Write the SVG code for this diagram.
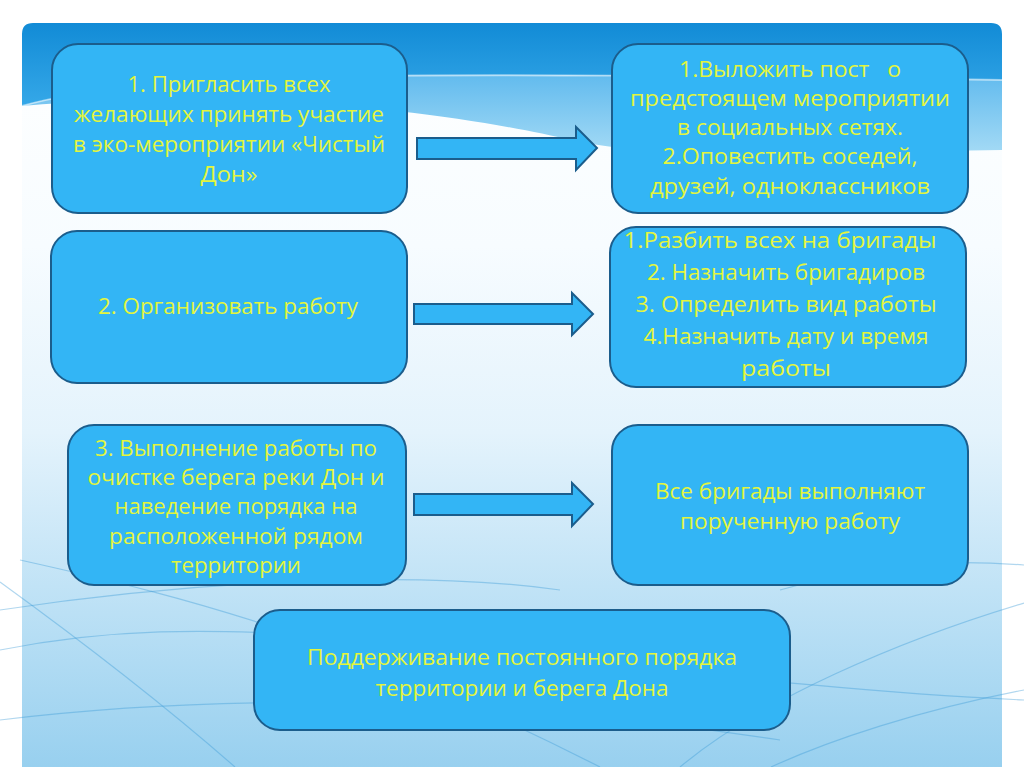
<svg xmlns="http://www.w3.org/2000/svg" width="1024" height="767" viewBox="0 0 1024 767">
<defs>
<linearGradient id="bg" x1="0" y1="0" x2="0" y2="1">
<stop offset="0" stop-color="#ffffff"/>
<stop offset="0.3" stop-color="#f7fcff"/>
<stop offset="0.55" stop-color="#e4f3fc"/>
<stop offset="1" stop-color="#98d0ef"/>
</linearGradient>
<linearGradient id="dark" x1="0" y1="0" x2="0" y2="1">
<stop offset="0" stop-color="#128bd6"/>
<stop offset="1" stop-color="#35a8e8"/>
</linearGradient>
<linearGradient id="light" x1="0" y1="0" x2="0" y2="1">
<stop offset="0" stop-color="#62bbee"/>
<stop offset="1" stop-color="#a4daf5"/>
</linearGradient>
</defs>
<style>
.box{fill:#33b5f5;stroke:#1b5d8c;stroke-width:2}
.arr{fill:#33b5f5;stroke:#1b5d8c;stroke-width:2;stroke-linejoin:miter}
.t{font-family:"Open Sans","DejaVu Sans",sans-serif;font-size:22px;fill:#e4f53c;text-anchor:middle}
.curve{fill:none;stroke:#3b9bd8;stroke-width:1.2;opacity:0.4}
</style>
<rect width="1024" height="767" fill="#ffffff"/>
<g id="background">
<path d="M22,34 Q22,23 33,23 L991,23 Q1002,23 1002,34 L1002,767 L22,767 Z" fill="url(#bg)"/>
<path d="M22,106 C150,70 400,72 1002,80 L1002,150 C820,152 660,160 570,140 C480,118 260,84 22,106 Z" fill="url(#light)"/>
<path d="M22,34 Q22,23 33,23 L991,23 Q1002,23 1002,34 L1002,80 C400,72 150,70 22,106 Z" fill="url(#dark)"/>
<path d="M22,106 C150,70 400,72 1002,80" fill="none" stroke="#ffffff" stroke-width="2" opacity="0.5"/>
<path class="curve" d="M0,582 C80,640 170,710 235,767"/>
<path class="curve" d="M0,650 C100,630 200,625 380,640 C600,660 800,690 1024,700"/>
<path class="curve" d="M0,610 C200,580 420,570 560,590"/>
<path class="curve" d="M1024,690 C920,710 830,740 771,767"/>
<path class="curve" d="M1024,603 C900,640 760,700 680,767"/>
<path class="curve" d="M0,720 C250,690 520,700 780,740"/>
<path class="curve" d="M20,560 C200,600 350,640 600,767"/>
<path class="curve" d="M780,590 C880,560 960,560 1024,565"/>
</g>
<g id="connectors">
<path class="arr" d="M417,138 L576,138 L576,127 L597,148 L576,170 L576,159 L417,159 Z"/>
<path class="arr" d="M414,304 L572,304 L572,293 L593,314 L572,335 L572,324 L414,324 Z"/>
<path class="arr" d="M414,494 L572,494 L572,483 L593,504 L572,526 L572,515 L414,515 Z"/>
</g>
<g id="node1">
<rect class="box" x="52" y="44" width="355" height="169" rx="26"/>
<text class="t"><tspan x="229" y="92" textLength="203" lengthAdjust="spacingAndGlyphs">1. Пригласить всех</tspan><tspan x="229" y="122" textLength="310" lengthAdjust="spacingAndGlyphs">желающих принять участие</tspan><tspan x="229" y="152" textLength="312" lengthAdjust="spacingAndGlyphs">в эко-мероприятии «Чистый</tspan><tspan x="229" y="182" textLength="57" lengthAdjust="spacingAndGlyphs">Дон»</tspan></text>
</g>
<g id="node2">
<rect class="box" x="612" y="44" width="356" height="169" rx="26"/>
<text class="t" xml:space="preserve"><tspan x="790" y="77" textLength="222" lengthAdjust="spacingAndGlyphs">1.Выложить пост   о</tspan><tspan x="790" y="106" textLength="320" lengthAdjust="spacingAndGlyphs">предстоящем мероприятии</tspan><tspan x="790" y="135" textLength="226" lengthAdjust="spacingAndGlyphs">в социальных сетях.</tspan><tspan x="790" y="164" textLength="255" lengthAdjust="spacingAndGlyphs">2.Оповестить соседей,</tspan><tspan x="790" y="194" textLength="280" lengthAdjust="spacingAndGlyphs">друзей, одноклассников</tspan></text>
</g>
<g id="node3">
<rect class="box" x="51" y="231" width="356" height="152" rx="26"/>
<text class="t" x="228" y="314" textLength="260" lengthAdjust="spacingAndGlyphs">2. Организовать работу</text>
</g>
<g id="node4">
<rect class="box" x="610" y="227" width="356" height="160" rx="26"/>
<text class="t"><tspan x="780" y="248" textLength="313" lengthAdjust="spacingAndGlyphs">1.Разбить всех на бригады</tspan><tspan x="786" y="280" textLength="278" lengthAdjust="spacingAndGlyphs">2. Назначить бригадиров</tspan><tspan x="786" y="312" textLength="301" lengthAdjust="spacingAndGlyphs">3. Определить вид работы</tspan><tspan x="786" y="344" textLength="285" lengthAdjust="spacingAndGlyphs">4.Назначить дату и время</tspan><tspan x="786" y="376" textLength="90" lengthAdjust="spacingAndGlyphs">работы</tspan></text>
</g>
<g id="node5">
<rect class="box" x="68" y="425" width="338" height="160" rx="26"/>
<text class="t"><tspan x="236" y="456" textLength="282" lengthAdjust="spacingAndGlyphs">3. Выполнение работы по</tspan><tspan x="236" y="485" textLength="297" lengthAdjust="spacingAndGlyphs">очистке берега реки Дон и</tspan><tspan x="236" y="514" textLength="243" lengthAdjust="spacingAndGlyphs">наведение порядка на</tspan><tspan x="236" y="544" textLength="254" lengthAdjust="spacingAndGlyphs">расположенной рядом</tspan><tspan x="236" y="573" textLength="130" lengthAdjust="spacingAndGlyphs">территории</tspan></text>
</g>
<g id="node6">
<rect class="box" x="612" y="425" width="356" height="160" rx="26"/>
<text class="t"><tspan x="790" y="499" textLength="270" lengthAdjust="spacingAndGlyphs">Все бригады выполняют</tspan><tspan x="790" y="529" textLength="220" lengthAdjust="spacingAndGlyphs">порученную работу</tspan></text>
</g>
<g id="node7">
<rect class="box" x="254" y="610" width="536" height="120" rx="26"/>
<text class="t"><tspan x="522" y="665" textLength="430" lengthAdjust="spacingAndGlyphs">Поддерживание постоянного порядка</tspan><tspan x="522" y="696" textLength="293" lengthAdjust="spacingAndGlyphs">территории и берега Дона</tspan></text>
</g>
</svg>
